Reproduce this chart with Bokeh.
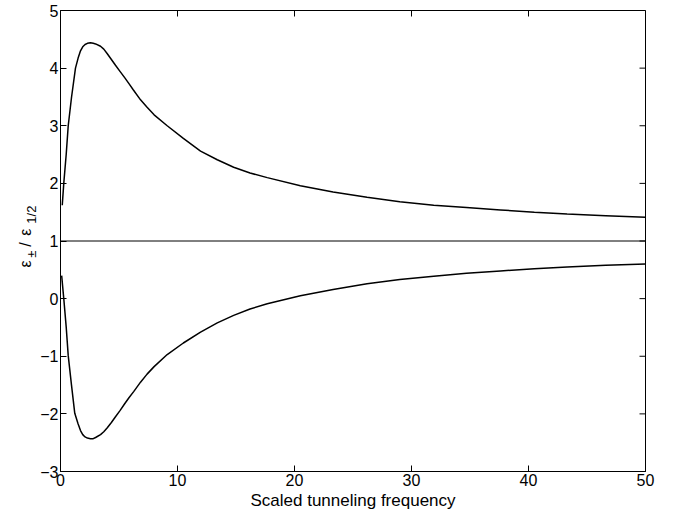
import math
from bokeh.plotting import figure
from bokeh.models import LinearAxis, FixedTicker, Range1d
from bokeh.layouts import row
from bokeh.core.properties import value
from bokeh.embed import file_html
from bokeh.resources import INLINE

# ---- data ----
x_upper = [0.15, 0.28, 0.49, 0.66, 0.94, 1.28, 1.5, 1.71, 1.9, 2.1, 2.3, 2.56, 2.8, 3.0,
           3.42, 3.7, 4.0, 4.35, 4.7, 5.1, 5.5, 5.85, 6.2, 6.84, 7.4, 8.0, 9.12, 10.5,
           11.97, 13.4, 14.8, 16.2, 17.67, 20.5, 23.3, 26.2, 29.0, 31.9, 34.7, 37.6,
           40.5, 43.3, 46.6, 50.0]
y_upper = [1.62, 2.0, 2.51, 3.0, 3.49, 4.0, 4.17, 4.30, 4.37, 4.41, 4.43, 4.44, 4.43, 4.42,
           4.38, 4.33, 4.25, 4.15, 4.05, 3.94, 3.83, 3.73, 3.63, 3.45, 3.32, 3.19, 3.0, 2.78,
           2.56, 2.41, 2.28, 2.18, 2.10, 1.96, 1.85, 1.76, 1.68, 1.62, 1.58, 1.54,
           1.50, 1.47, 1.44, 1.41]

x_lower = [0.1, 0.28, 0.49, 0.66, 0.94, 1.22, 1.5, 1.71, 1.9, 2.1, 2.3, 2.56, 2.8, 3.0,
           3.42, 3.7, 4.0, 4.35, 4.7, 5.1, 5.5, 5.85, 6.27, 6.84, 7.4, 8.0, 9.12, 10.5,
           11.97, 13.4, 14.8, 16.2, 17.67, 20.5, 23.3, 26.2, 29.0, 31.9, 34.7, 37.6,
           40.5, 43.3, 46.6, 50.0]
y_lower = [0.40, 0.0, -0.5, -0.99, -1.5, -1.99, -2.17, -2.29, -2.36, -2.40, -2.42, -2.43, -2.43, -2.41,
           -2.36, -2.31, -2.24, -2.15, -2.05, -1.94, -1.82, -1.72, -1.61, -1.45, -1.31, -1.18, -0.97, -0.77,
           -0.58, -0.42, -0.29, -0.18, -0.09, 0.05, 0.16, 0.26, 0.33, 0.39, 0.44, 0.48,
           0.52, 0.55, 0.58, 0.60]

x_ref = [0, 50]
y_ref = [1, 1]

x_ticks = [0, 10, 20, 30, 40, 50]
y_ticks = [-3, -2, -1, 0, 1, 2, 3, 4, 5]
x_label = "Scaled tunneling frequency"
y_label_main = ["ε", "/", "ε"]
y_label_sub = ["±", "1/2"]

FONT = "Liberation Sans"
TICK_FS = "16px"
LABEL_W = 37
H = 523

# ---- main plot ----
p = figure(width=680 - LABEL_W, height=H, output_backend="svg", toolbar_location=None,
           x_range=Range1d(0, 50), y_range=Range1d(-3, 5),
           min_border_left=60 - LABEL_W, min_border_right=35, min_border_top=10,
           min_border_bottom=52, x_axis_location=None, y_axis_location=None)
p.grid.visible = False
p.outline_line_color = "black"
p.outline_line_width = 1
p.background_fill_color = "white"
p.border_fill_color = "white"

def make_axis(ticks):
    ax = LinearAxis(ticker=FixedTicker(ticks=ticks))
    ax.major_tick_in = 6
    ax.major_tick_out = 0
    ax.minor_tick_line_color = None
    ax.axis_line_color = "black"
    ax.major_tick_line_color = "black"
    ax.major_label_text_font = FONT
    ax.major_label_text_font_size = TICK_FS
    ax.major_label_text_color = "black"
    ax.major_label_standoff = 2
    return ax

xb = make_axis(x_ticks)
xb.axis_label = x_label
xb.axis_label_text_font = FONT
xb.axis_label_text_font_size = "17px"
xb.axis_label_text_font_style = "normal"
xb.axis_label_text_color = "black"
xb.axis_label_standoff = 2
p.add_layout(xb, "below")

yl = make_axis(y_ticks)
p.add_layout(yl, "left")

# tick marks on the top and right edges of the box (clipped to the frame -> inward ticks)
p.scatter(x=x_ticks, y=[y_ticks[-1]] * len(x_ticks), marker="dash", size=12,
          angle=math.pi / 2, line_color="black", line_width=1)
p.scatter(x=[x_ticks[-1]] * len(y_ticks), y=y_ticks, marker="dash", size=12,
          line_color="black", line_width=1)

p.line(x_upper, y_upper, line_color="black", line_width=1.5)
p.line(x_lower, y_lower, line_color="black", line_width=1.5)
p.line(x_ref, y_ref, line_color="black", line_width=1)

# ---- y-axis label strip: its frame is aligned with the main frame, so it shares the y range ----
lab = figure(width=LABEL_W, height=H, output_backend="svg", toolbar_location=None,
             x_range=Range1d(0, LABEL_W), y_range=Range1d(-3, 5),
             min_border=0, x_axis_location=None, y_axis_location=None)
lab.grid.visible = False
lab.outline_line_color = None
lab.background_fill_color = "white"
lab.border_fill_color = "white"
lab.text(x=[24.5, 24.5, 24.5], y=[0.54, 0.90, 1.09], text=y_label_main, angle=math.pi / 2,
         text_font=value(FONT), text_font_size=value("16px"), text_color="black",
         text_align="left", text_baseline="alphabetic")
lab.text(x=[30.5, 30.5], y=[0.71, 1.30], text=y_label_sub, angle=math.pi / 2,
         text_font=value(FONT), text_font_size=value("13px"), text_color="black",
         text_align="left", text_baseline="alphabetic")

layout = row(lab, p)
open("out.html", "w").write(file_html(layout, INLINE))
